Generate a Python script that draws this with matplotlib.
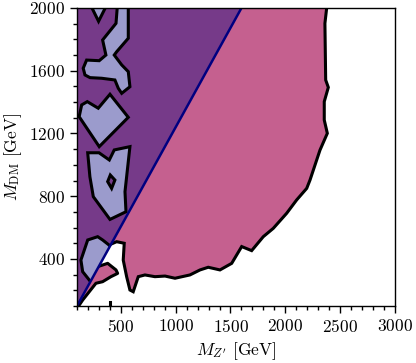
import matplotlib
matplotlib.use("Agg")
import matplotlib.pyplot as plt
import numpy as np
from matplotlib.patches import Polygon

plt.rcParams['font.family'] = 'serif'
plt.rcParams['font.serif'] = ['cmr10', 'DejaVu Serif']
plt.rcParams['mathtext.fontset'] = 'cm'
plt.rcParams['axes.formatter.use_mathtext'] = True

# ---- data (M_Z' [GeV], M_DM [GeV]) ----
# boundary line separating the two regimes
line_mz = [100, 1600]
line_mdm = [100, 2000]

# allowed (pink) region, right of the line: outer contour
pink_mz = [100, 2377, 2361, 2368, 2392, 2355, 2355, 2383, 2316, 2225, 2195, 2103, 2012,
           1890, 1799, 1693, 1602, 1511, 1404, 1297, 1222, 1130, 994, 903, 811, 720,
           659, 613, 583, 553, 522, 531, 462, 392,
           298, 380, 456, 471, 410, 334, 273, 212, 152, 121, 100]
pink_mdm = [2000, 2000, 1902, 1541, 1494, 1403, 1286, 1201, 1094, 903, 850, 776, 691,
            595, 542, 453, 479, 372, 330, 347, 330, 298, 277, 291, 287, 298,
            287, 191, 202, 287, 393, 500, 510, 489,
            353, 372, 330, 308, 287, 255, 245, 191, 138, 106, 95]
# contour line pieces of the pink region
edge1_mz = pink_mz[1:34]
edge1_mdm = pink_mdm[1:34]
edge2_mz = pink_mz[34:]
edge2_mdm = pink_mdm[34:]
# small contour spot on the lower edge
spot_mz = [401, 401]
spot_mdm = [100, 125]

# excluded islands (lavender) in the region above the line
isl_A_mz = [237, 297, 358, 358, 237]
isl_A_mdm = [2000, 1915, 2000, 2080, 2080]
isl_B_mz = [456, 467, 467, 568, 568, 568, 462, 440, 508, 568, 583, 508, 477, 446,
            325, 219, 173, 157, 188, 303, 364, 334]
isl_B_mdm = [1902, 2000, 2080, 2080, 2000, 1807, 1721, 1700, 1637, 1594, 1498, 1456,
             1488, 1541, 1552, 1556, 1573, 1616, 1668, 1664, 1700, 1796]
isl_C_mz = [401, 568, 303, 120, 143, 194, 294]
isl_C_mdm = [1450, 1303, 1116, 1307, 1382, 1403, 1361]
isl_D_mz = [198, 301, 395, 440, 583, 538, 547, 401, 249, 218]
isl_D_mdm = [1077, 1077, 1031, 1095, 1116, 829, 701, 652, 797, 924]
isl_D_hole_mz = [404, 446, 416, 380]
isl_D_hole_mdm = [935, 903, 850, 893]
isl_E_mz = [392, 334, 289, 198, 157, 136, 152, 212, 260, 500]
isl_E_mdm = [489, 521, 542, 521, 436, 393, 319, 266, 220, 400]

pink = '#c5608f'
dpurple = '#763a89'
lav = '#9b9bcc'
navy = '#000080'

fig = plt.figure(figsize=(4.16, 3.63), dpi=100)
ax = fig.add_axes([0.185, 0.157, 0.7645, 0.821])
ax.set_xlim(100, 3000)
ax.set_ylim(100, 2000)

# pink allowed region
ax.add_patch(Polygon(np.column_stack([pink_mz, pink_mdm]), closed=True,
                     facecolor=pink, edgecolor='none', zorder=1))
ax.plot(edge1_mz, edge1_mdm, color='black', lw=2.2, zorder=2, solid_joinstyle='miter')
ax.plot(edge2_mz, edge2_mdm, color='black', lw=2.2, zorder=2)
ax.plot(spot_mz, spot_mdm, color='black', lw=2.2, zorder=2)

# region above the line
tri = Polygon([[line_mz[0], line_mdm[0]], [line_mz[1], line_mdm[1]],
               [line_mz[0], line_mdm[1]]], closed=True,
              facecolor=dpurple, edgecolor='none', zorder=3)
ax.add_patch(tri)

for xs, ys, fc in [(isl_A_mz, isl_A_mdm, lav), (isl_B_mz, isl_B_mdm, lav),
                   (isl_C_mz, isl_C_mdm, lav), (isl_D_mz, isl_D_mdm, lav),
                   (isl_D_hole_mz, isl_D_hole_mdm, dpurple),
                   (isl_E_mz, isl_E_mdm, lav)]:
    p = Polygon(np.column_stack([xs, ys]), closed=True, facecolor=fc,
                edgecolor='black', lw=2.2, zorder=4)
    ax.add_patch(p)
    p.set_clip_path(tri)

ax.plot(line_mz, line_mdm, color=navy, lw=1.8, zorder=5)

ax.set_xticks([500, 1000, 1500, 2000, 2500, 3000])
ax.set_yticks([400, 800, 1200, 1600, 2000])
ax.set_xticks(np.arange(100, 3001, 100), minor=True)
ax.set_yticks(np.arange(100, 2001, 100), minor=True)
ax.tick_params(which='major', direction='out', length=5, width=1, labelsize=12.5,
               top=False, right=False)
ax.tick_params(which='minor', direction='out', length=3, width=1, top=False, right=False)
for s in ax.spines.values():
    s.set_linewidth(1.0)
    s.set_zorder(6)

ax.set_xlabel(r"$M_{Z'}$ [GeV]", fontsize=12.5, labelpad=4)
ax.set_ylabel(r"$M_{\rm DM}$ [GeV]", fontsize=12.5, labelpad=4)

fig.savefig('out.png', dpi=100)
